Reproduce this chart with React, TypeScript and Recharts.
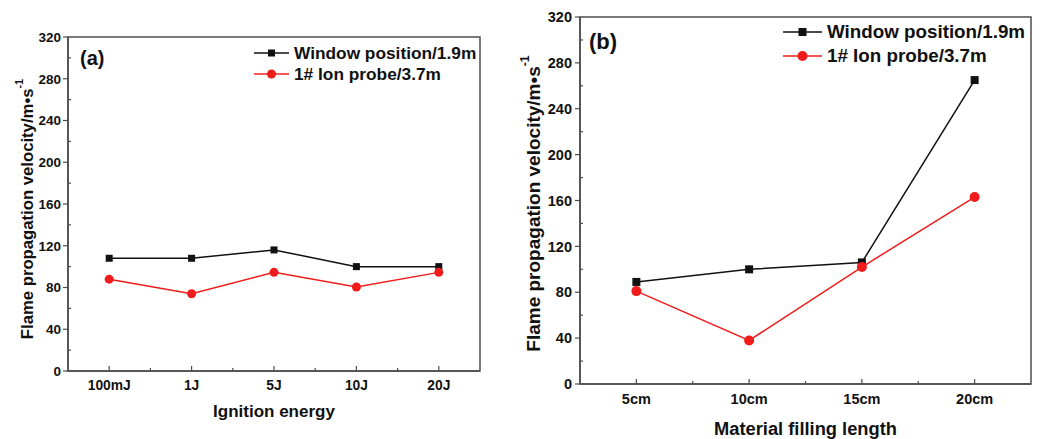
import React from "react";
import { LineChart, Line, XAxis, YAxis, ReferenceArea, Label } from "recharts";

// panel (a): ignition energy
const energyLabels = ["100mJ", "1J", "5J", "10J", "20J"];
const energyWindow = [108, 108, 116, 100, 100];
const energyProbe = [88, 74, 94.5, 80.5, 94.5];

// panel (b): material filling length
const lengthLabels = ["5cm", "10cm", "15cm", "20cm"];
const lengthWindow = [89, 100, 106, 265];
const lengthProbe = [81, 38, 102, 163];

const yTicks = [0, 20, 40, 60, 80, 100, 120, 140, 160, 180, 200, 220, 240, 260, 280, 300, 320];
const seriesNames = ["Window position/1.9m", "1# Ion probe/3.7m"];

const AXIS = "#4d4d4d";
const BLACK = "#111111";
const RED = "#f01c1c";
const FONT = "'Liberation Sans', Arial, Helvetica, sans-serif";

type PanelProps = {
  left: number;
  width: number;
  tag: string;
  labels: string[];
  windowVals: number[];
  probeVals: number[];
  xTitle: string;
  margin: { top: number; right: number; bottom: number; left: number };
  yAxisWidth: number;
  xAxisHeight: number;
  xTickFont: number;
  yTickFont: number;
  titleFont: number;
  xTitleFont: number;
  yTitleX: number;
  yTitleShift: number;
  xTitleY: number;
  xTickDy: number;
  yTickGap: number;
  marker: number;
  legend: { x: number; y: number; gap: number; line: number; font: number };
  tagPos: { x: number; y: number; font: number };
};

function Panel(p: PanelProps) {
  const data = p.labels.map((name, i) => ({
    idx: i,
    name,
    win: p.windowVals[i],
    probe: p.probeVals[i],
  }));
  const n = p.labels.length;
  const xTicks = p.labels.flatMap((_, i) => (i < n - 1 ? [i, i + 0.5] : [i]));
  const half = p.marker / 2;

  const xTick = (t: any) => {
    const v = t.payload.value;
    const major = Number.isInteger(v);
    return (
      <g>
        <line x1={t.x} x2={t.x} y1={t.y} y2={t.y - (major ? 5 : 3)} stroke={AXIS} strokeWidth={1.2} />
        {major && (
          <text x={t.x} y={t.y + p.xTickDy} textAnchor="middle" fontSize={p.xTickFont} fontWeight="bold" fill={BLACK}>
            {p.labels[v]}
          </text>
        )}
      </g>
    );
  };

  const yTick = (t: any) => {
    const v = t.payload.value;
    const major = v % 40 === 0;
    return (
      <g>
        <line x1={t.x} x2={major ? t.x - 5 : t.x + 3} y1={t.y} y2={t.y} stroke={AXIS} strokeWidth={1.2} />
        {major && (
          <text x={t.x - p.yTickGap} y={t.y + p.yTickFont * 0.36} textAnchor="end" fontSize={p.yTickFont} fontWeight="bold" fill={BLACK}>
            {v}
          </text>
        )}
      </g>
    );
  };

  const yTitle = (props: any) => {
    const vb = props.viewBox;
    const cy = vb.y + vb.height / 2 + p.yTitleShift;
    const cx = p.yTitleX;
    return (
      <text
        x={cx}
        y={cy}
        transform={`rotate(-90 ${cx} ${cy})`}
        textAnchor="middle"
        dominantBaseline="central"
        fontSize={p.titleFont}
        fontWeight="bold"
        fill={BLACK}
      >
        Flame propagation velocity/m•s
        <tspan dy={-p.titleFont * 0.45} fontSize={p.titleFont * 0.65}>
          -1
        </tspan>
      </text>
    );
  };

  const xTitle = (props: any) => {
    const vb = props.viewBox;
    return (
      <text x={vb.x + vb.width / 2} y={p.xTitleY} textAnchor="middle" fontSize={p.xTitleFont} fontWeight="bold" fill={BLACK}>
        {p.xTitle}
      </text>
    );
  };

  const squareDot = (d: any) => (
    <rect key={`sq-${d.index}`} x={d.cx - half} y={d.cy - half} width={p.marker} height={p.marker} fill={BLACK} />
  );

  const legendRow = (i: number, color: string, square: boolean) => (
    <div
      style={{
        position: "absolute",
        left: p.legend.x,
        top: p.legend.y + i * p.legend.gap - 12,
        height: 24,
        display: "flex",
        alignItems: "center",
        whiteSpace: "nowrap",
      }}
    >
      <svg width={p.legend.line} height={12}>
        <line x1={0} x2={p.legend.line} y1={6} y2={6} stroke={color} strokeWidth={1.5} />
        {square ? (
          <rect x={p.legend.line / 2 - half} y={6 - half} width={p.marker} height={p.marker} fill={color} />
        ) : (
          <circle cx={p.legend.line / 2} cy={6} r={half + 1} fill={color} />
        )}
      </svg>
      <span style={{ marginLeft: 5, fontSize: p.legend.font, fontWeight: "bold", color: BLACK }}>
        {seriesNames[i]}
      </span>
    </div>
  );

  return (
    <div style={{ position: "absolute", left: p.left, top: 0, width: p.width, height: 439 }}>
      <LineChart width={p.width} height={439} data={data} margin={p.margin}>
        <XAxis
          dataKey="idx"
          type="number"
          domain={[-0.5, n - 0.5]}
          ticks={xTicks}
          interval={0}
          height={p.xAxisHeight}
          tickSize={0}
          tickMargin={0}
          tickLine={false}
          tick={xTick}
          axisLine={{ stroke: AXIS, strokeWidth: 1.5 }}
        >
          <Label content={xTitle} />
        </XAxis>
        <YAxis
          type="number"
          domain={[0, 320]}
          ticks={yTicks}
          interval={0}
          width={p.yAxisWidth}
          tickSize={0}
          tickMargin={0}
          tickLine={false}
          tick={yTick}
          axisLine={{ stroke: AXIS, strokeWidth: 1.5 }}
        >
          <Label content={yTitle} />
        </YAxis>
        <ReferenceArea x1={-0.5} x2={n - 0.5} y1={0} y2={320} fill="none" stroke={AXIS} strokeWidth={1.5} />
        <Line
          dataKey="win"
          stroke={BLACK}
          strokeWidth={1.5}
          dot={squareDot}
          activeDot={false}
          isAnimationActive={false}
        />
        <Line
          dataKey="probe"
          stroke={RED}
          strokeWidth={1.5}
          dot={{ r: half + 1, fill: RED, stroke: RED, strokeWidth: 0 }}
          activeDot={false}
          isAnimationActive={false}
        />
      </LineChart>
      {legendRow(0, BLACK, true)}
      {legendRow(1, RED, false)}
      <div
        style={{
          position: "absolute",
          left: p.tagPos.x,
          top: p.tagPos.y - p.tagPos.font / 2,
          fontSize: p.tagPos.font,
          lineHeight: `${p.tagPos.font}px`,
          fontWeight: "bold",
          color: BLACK,
        }}
      >
        {p.tag}
      </div>
    </div>
  );
}

export default function App() {
  return (
    <div
      style={{
        position: "absolute",
        left: 0,
        top: 0,
        width: 1047,
        height: 439,
        background: "#fff",
        fontFamily: FONT,
        overflow: "hidden",
      }}
    >
      <Panel
        left={0}
        width={500}
        tag="(a)"
        labels={energyLabels}
        windowVals={energyWindow}
        probeVals={energyProbe}
        xTitle="Ignition energy"
        margin={{ top: 37, right: 20, bottom: 18, left: 10 }}
        yAxisWidth={58}
        xAxisHeight={50}
        xTickFont={13.8}
        yTickFont={13.5}
        titleFont={16.7}
        xTitleFont={17}
        yTitleX={27}
        yTitleShift={5}
        xTitleY={417}
        xTickDy={19}
        yTickGap={7}
        marker={7}
        legend={{ x: 254, y: 53, gap: 21, line: 35, font: 17.3 }}
        tagPos={{ x: 80, y: 58, font: 20 }}
      />
      <Panel
        left={505}
        width={542}
        tag="(b)"
        labels={lengthLabels}
        windowVals={lengthWindow}
        probeVals={lengthProbe}
        xTitle="Material filling length"
        margin={{ top: 17, right: 16, bottom: 10, left: 23 }}
        yAxisWidth={52}
        xAxisHeight={45}
        xTickFont={14.5}
        yTickFont={14.5}
        titleFont={19}
        xTitleFont={18.3}
        yTitleX={28.5}
        yTitleShift={3}
        xTitleY={434.5}
        xTickDy={20}
        yTickGap={8}
        marker={8}
        legend={{ x: 278, y: 31.5, gap: 24, line: 39, font: 18.8 }}
        tagPos={{ x: 84, y: 42, font: 22 }}
      />
    </div>
  );
}
